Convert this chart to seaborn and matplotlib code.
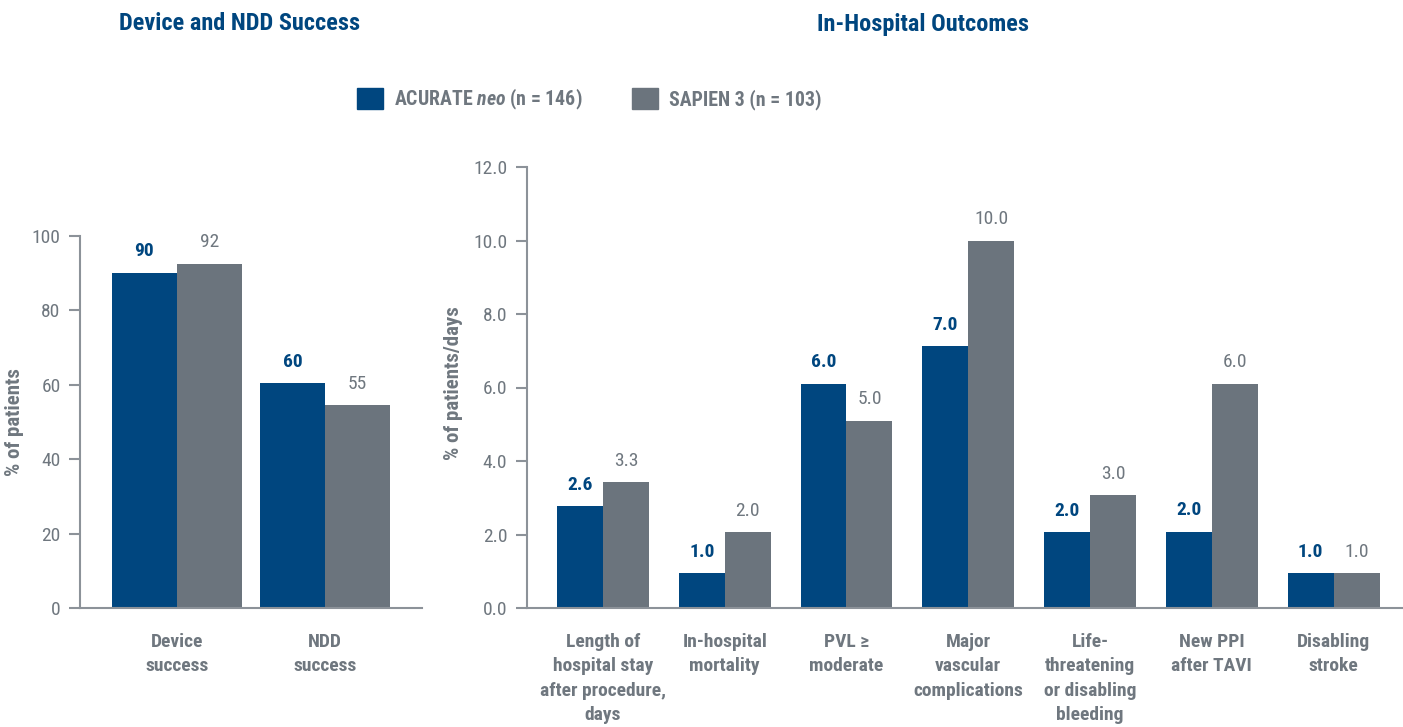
import pandas as pd
import matplotlib.pyplot as plt
import matplotlib.font_manager as fm
import seaborn as sns

# Datos
grupos = ["ACURATE neo (n = 146)", "SAPIEN 3 (n = 103)"]

cat_izq = ["Device\nsuccess", "NDD\nsuccess"]
acurate_izq = [90.0, 60.4]
sapien_izq = [92.4, 54.5]
txt_acurate_izq = ["90", "60"]
txt_sapien_izq = ["92", "55"]

cat_der = ["Length of\nhospital stay\nafter procedure,\ndays", "In-hospital\nmortality",
           "PVL \u2265\nmoderate", "Major\nvascular\ncomplications",
           "Life-\nthreatening\nor disabling\nbleeding", "New PPI\nafter TAVI",
           "Disabling\nstroke"]
acurate_der = [2.77, 0.95, 6.1, 7.12, 2.06, 2.08, 0.95]
sapien_der = [3.42, 2.06, 5.09, 10.0, 3.07, 6.1, 0.95]
txt_acurate_der = ["2.6", "1.0", "6.0", "7.0", "2.0", "2.0", "1.0"]
txt_sapien_der = ["3.3", "2.0", "5.0", "10.0", "3.0", "6.0", "1.0"]

AZUL = "#00467f"
GRIS = "#6b747d"
GRIS_TXT = "#6f777f"
GRIS_EJE = "#8c9299"

# fuente condensada si existe
disponibles = {f.name for f in fm.fontManager.ttflist}
fuente = "Roboto"
for cand in ["Roboto Condensed", "Liberation Sans Narrow", "Open Sans Condensed"]:
    if cand in disponibles:
        fuente = cand
        break
condensada = fuente != "Roboto"
k = 1.0 if condensada else 0.88

sns.set_style("white")
plt.rcParams["font.family"] = [fuente, "DejaVu Sans"]
plt.rcParams["mathtext.fontset"] = "custom"
plt.rcParams["mathtext.it"] = fuente + ":italic:bold"
plt.rcParams["mathtext.rm"] = fuente + ":bold"
plt.rcParams["mathtext.bf"] = fuente + ":bold"


def tabla(cats, a, s):
    return pd.DataFrame({
        "cat": cats * 2,
        "valor": a + s,
        "grupo": [grupos[0]] * len(cats) + [grupos[1]] * len(cats),
    })


W, H = 1403, 727
fig = plt.figure(figsize=(W / 100, H / 100), dpi=100)
ax1 = fig.add_axes([80 / W, 1 - 608 / H, (422 - 80) / W, (608 - 235.7) / H])
ax2 = fig.add_axes([526.7 / W, 1 - 608 / H, (W - 526.7) / W, (608 - 167) / H])

paleta = {grupos[0]: AZUL, grupos[1]: GRIS}

sns.barplot(data=tabla(cat_izq, acurate_izq, sapien_izq), x="cat", y="valor", hue="grupo",
            palette=paleta, width=0.88, saturation=1, linewidth=0, ax=ax1, legend=False)
sns.barplot(data=tabla(cat_der, acurate_der, sapien_der), x="cat", y="valor", hue="grupo",
            palette=paleta, width=0.755, saturation=1, linewidth=0, ax=ax2, legend=False)

ax1.set_ylim(0, 100)
ax1.set_yticks(range(0, 101, 20))
ax1.set_xlim(-0.655, 1.655)
ax2.set_ylim(0, 12)
ax2.set_yticks([0, 2, 4, 6, 8, 10, 12])
ax2.set_yticklabels([f"{v:.1f}" for v in [0, 2, 4, 6, 8, 10, 12]])
ax2.set_xlim(-0.626, 6.57)

for ax, textos in [(ax1, (txt_acurate_izq, txt_sapien_izq)), (ax2, (txt_acurate_der, txt_sapien_der))]:
    for sp in ["top", "right"]:
        ax.spines[sp].set_visible(False)
    for sp in ["left", "bottom"]:
        ax.spines[sp].set_color(GRIS_EJE)
        ax.spines[sp].set_linewidth(1.5)
    ax.tick_params(axis="y", length=8, width=1.5, color=GRIS_EJE, pad=6,
                   labelsize=14 * k, labelcolor=GRIS_TXT, left=True)
    ax.tick_params(axis="x", length=0, pad=18, labelsize=14 * k, labelcolor=GRIS_TXT)
    for lab in ax.get_xticklabels():
        lab.set_fontweight("bold")
        lab.set_linespacing(1.45)
        lab.set_verticalalignment("top")
    ax.set_xlabel("")
    ax.bar_label(ax.containers[0], labels=textos[0], padding=9, color=AZUL,
                 fontsize=14 * k, fontweight="bold")
    ax.bar_label(ax.containers[1], labels=textos[1], padding=9, color=GRIS_TXT,
                 fontsize=14 * k)

ax1.set_ylabel("% of patients", fontsize=15 * k, fontweight="bold", color=GRIS_TXT)
ax1.yaxis.set_label_coords((24 - 80) / 342, (608 - 422) / 372.3)
ax2.set_ylabel("% of patients/days", fontsize=15 * k, fontweight="bold", color=GRIS_TXT)
ax2.yaxis.set_label_coords((463 - 526.7) / (W - 526.7), (608 - 383) / 441)

# Títulos
fig.text(240 / W, 1 - 24 / H, "Device and NDD Success", ha="center", va="center",
         fontsize=17.5 * k, fontweight="bold", color=AZUL)
fig.text(923 / W, 1 - 24 / H, "In-Hospital Outcomes", ha="center", va="center",
         fontsize=17.5 * k, fontweight="bold", color=AZUL)

# Leyenda
etiquetas_leyenda = ["ACURATE $\\mathit{neo}$ (n = 146)", "SAPIEN 3 (n = 103)"]
handles = [plt.Rectangle((0, 0), 1, 1, color=AZUL), plt.Rectangle((0, 0), 1, 1, color=GRIS)]
leg = fig.legend(handles, etiquetas_leyenda, loc="center left", bbox_to_anchor=(357 / W, 1 - 99 / H),
                 ncol=2, frameon=False, fontsize=14.3 * k, handlelength=1.3 / k, handleheight=1.3 / k,
                 handletextpad=0.55, columnspacing=2.5, borderpad=0, borderaxespad=0)
for t in leg.get_texts():
    t.set_color(GRIS_TXT)
    t.set_fontweight("bold")

plt.savefig("out.png", dpi=100)
plt.close()
